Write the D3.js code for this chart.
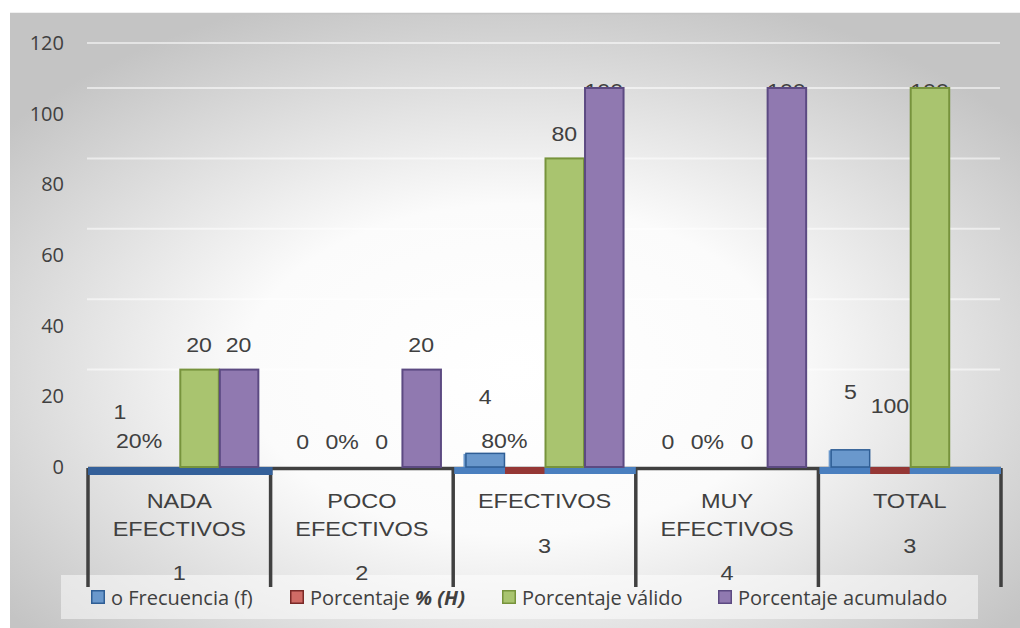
<!DOCTYPE html>
<html><head><meta charset="utf-8">
<script src="https://cdn.jsdelivr.net/npm/d3@7"></script>
<style>body{margin:0;background:#fff} svg{display:block}</style>
</head><body>
<svg id="chart" width="1020" height="628"></svg>
<script>
// ---- data ----
const categories = ["NADA EFECTIVOS", "POCO EFECTIVOS", "EFECTIVOS", "MUY EFECTIVOS", "TOTAL"];
const categoryLines = [["NADA", "EFECTIVOS"], ["POCO", "EFECTIVOS"], ["EFECTIVOS"], ["MUY", "EFECTIVOS"], ["TOTAL"]];
const categoryCodes = ["1", "2", "3", "4", "3"];
const seriesKeys = ["f", "h", "valido", "acumulado"];
const seriesNames = ["o Frecuencia (f)", "Porcentaje ", "Porcentaje válido", "Porcentaje acumulado"];
const frecuencia = [1, 0, 4, 0, 5];
const porcentaje = [0.2, 0, 0.8, 0, 1];
const porcentajeLabels = ["20%", "0%", "80%", "0%", "100"];
const valido = [20, 0, 80, 0, 100];
const acumulado = [20, 20, 100, 100, null];
const yTicks = [0, 20, 40, 60, 80, 100, 120];

// ---- layout ----
const svg = d3.select("#chart");
const colors = { f: "#6a98cc", h: "#953735", valido: "#a9c46f", acumulado: "#9079b0" };
const strokes = { f: "#2f5e95", h: "#7a2a28", valido: "#77933c", acumulado: "#5c4a82" };
const labelFont = "'Liberation Sans', Arial, sans-serif";
const uiFont = "'Open Sans', sans-serif";

const defs = svg.append("defs");
const rg = defs.append("radialGradient").attr("id", "bg")
  .attr("cx", "50%").attr("cy", "58%").attr("r", "64%");
rg.append("stop").attr("offset", "0%").attr("stop-color", "#ffffff");
rg.append("stop").attr("offset", "42%").attr("stop-color", "#fbfbfb");
rg.append("stop").attr("offset", "100%").attr("stop-color", "#c4c4c4");

svg.append("rect").attr("x", 10).attr("y", 13).attr("width", 1010).attr("height", 615)
  .attr("fill", "url(#bg)");
svg.append("line").attr("x1", 10).attr("x2", 1020).attr("y1", 13.5).attr("y2", 13.5)
  .attr("stroke", "#c4c4c4").attr("stroke-width", 1.5);

const x0 = d3.scaleBand().domain(categories).range([88, 1001]);
const x1 = d3.scaleBand().domain(seriesKeys).range([0, x0.bandwidth()]).paddingOuter(0.31);
const yAxis = d3.scaleLinear().domain([0, 120]).range([467, 43]);
const yWall = d3.scaleLinear().domain([0, 100]).range([440, 88]);
const floorY = yAxis(0);
const plotTop = yAxis(120);

// gridlines (back wall)
svg.append("g").selectAll("line").data(yTicks.filter(d => d > 0)).join("line")
  .attr("x1", 87).attr("x2", 1000)
  .attr("y1", d => Math.max(yWall(d), plotTop)).attr("y2", d => Math.max(yWall(d), plotTop))
  .attr("stroke", "#ffffff").attr("stroke-opacity", 0.55).attr("stroke-width", 2);

// y axis labels
const ya = svg.append("g").attr("transform", "translate(66,0)")
  .call(d3.axisLeft(yAxis).tickValues(yTicks).tickSize(0).tickPadding(2));
ya.select(".domain").remove();
ya.selectAll("text").attr("font-family", uiFont).attr("font-size", 20).attr("fill", "#404040");

// legend background
svg.append("rect").attr("x", 61).attr("y", 575).attr("width", 917).attr("height", 44)
  .attr("fill", "#ffffff").attr("opacity", 0.5);

// horizontal axis line and category dividers
svg.append("line").attr("x1", 88).attr("x2", 1001).attr("y1", floorY + 1.5).attr("y2", floorY + 1.5)
  .attr("stroke", "#404040").attr("stroke-width", 3.5);
const bounds = categories.map(c => x0(c)).concat([x0(categories[4]) + x0.bandwidth()]);
svg.append("g").selectAll("line").data(bounds).join("line")
  .attr("x1", d => d).attr("x2", d => d).attr("y1", floorY + 1).attr("y2", 587)
  .attr("stroke", "#404040").attr("stroke-width", 3.5);

// value labels (drawn before bars so tall bars can cover clamped ones)
function slotCenter(i, key) { return x0(categories[i]) + x1(key) + x1.bandwidth() / 2; }
const vl = svg.append("g").attr("font-family", labelFont).attr("font-size", 21).attr("fill", "#404040");
function addLabel(x, yc, text, anchor) {
  vl.append("text").attr("transform", `translate(${x},${yc + 7.5}) scale(1.1,1)`)
    .attr("text-anchor", anchor || "middle").text(text);
}
frecuencia.forEach((v, i) => {
  const yc = v > 0 ? yWall(v) - 25 - (v - 1) * 1.5 : yWall(0) + 1;
  addLabel(slotCenter(i, "f"), yc, String(v));
});
porcentaje.forEach((v, i) => {
  const t = porcentajeLabels[i];
  if (!t.endsWith("%")) addLabel(slotCenter(i, "h"), yWall(0) - 35, t);
  else if (v > 0) addLabel(slotCenter(i, "f") - 4, yWall(0), t, "start");
  else addLabel(slotCenter(i, "h"), yWall(0) + 1, t);
});
[["valido", valido], ["acumulado", acumulado]].forEach(([key, arr]) => {
  arr.forEach((v, i) => {
    if (v === null) return;
    const yc = v > 0 ? Math.max(yWall(v) - 25, yWall(100) + 2) : yWall(0) + 1;
    addLabel(slotCenter(i, key), yc, String(v));
  });
});

// floor strips
categories.forEach((c, i) => {
  const f = frecuencia[i];
  if (f === 0) return;
  const bx = x0(c);
  if (f > 1) {
    svg.append("rect").attr("x", bx + 1).attr("y", floorY).attr("width", x0.bandwidth() - 1).attr("height", 7)
      .attr("fill", "#4a7fbf");
    svg.append("rect").attr("x", bx + x1("h")).attr("y", floorY).attr("width", x1.bandwidth()).attr("height", 7)
      .attr("fill", colors.h);
  } else {
    svg.append("rect").attr("x", bx).attr("y", floorY).attr("width", x0.bandwidth() + 2).attr("height", 8)
      .attr("fill", "#34609a");
  }
});

// bars
const bars = svg.append("g");
frecuencia.forEach((v, i) => {
  if (v <= 1) return;
  const x = x0(categories[i]) + x1("f");
  bars.append("rect").attr("x", x - 2).attr("y", yAxis(v) + 1).attr("width", x1.bandwidth())
    .attr("height", floorY - yAxis(v) - 1).attr("fill", colors.f);
  bars.append("rect").attr("x", x + 0.5).attr("y", yAxis(v) + 0.5).attr("width", x1.bandwidth() - 1)
    .attr("height", floorY - yAxis(v) - 0.5).attr("fill", colors.f)
    .attr("stroke", strokes.f).attr("stroke-width", 1.5);
});
[["valido", valido], ["acumulado", acumulado]].forEach(([key, arr]) => {
  arr.forEach((v, i) => {
    if (!v) return;
    const x = x0(categories[i]) + x1(key);
    bars.append("rect").attr("x", x + 1).attr("y", yWall(v)).attr("width", x1.bandwidth() - 1)
      .attr("height", floorY - yWall(v)).attr("fill", colors[key])
      .attr("stroke", strokes[key]).attr("stroke-width", 2);
  });
});

// category labels
const cl = svg.append("g").attr("font-family", labelFont).attr("font-size", 21).attr("fill", "#404040")
  .attr("text-anchor", "middle");
categories.forEach((c, i) => {
  const cx = x0(c) + x0.bandwidth() / 2;
  const lines = categoryLines[i];
  lines.forEach((t, j) => {
    cl.append("text").attr("transform", `translate(${cx},${508 + j * 28}) scale(1.12,1)`).text(t);
  });
  const codeY = lines.length > 1 ? 580 : 553;
  cl.append("text").attr("transform", `translate(${cx},${codeY}) scale(1.12,1)`).text(categoryCodes[i]);
});

// legend
const legX = [91, 290, 502, 718];
const lg = svg.append("g").attr("font-family", uiFont).attr("font-size", 20).attr("fill", "#404040");
seriesKeys.forEach((k, i) => {
  lg.append("rect").attr("x", legX[i] + 0.75).attr("y", 590.75).attr("width", 12.5).attr("height", 12.5)
    .attr("fill", k === "h" ? "#d06b66" : colors[k]).attr("stroke", strokes[k]).attr("stroke-width", 1.5);
  const t = lg.append("text").attr("x", legX[i] + 20).attr("y", 605).text(seriesNames[i]);
  if (k === "h") t.append("tspan").attr("font-weight", "bold").attr("font-style", "italic").text("% (H)");
});
</script>
</body></html>
